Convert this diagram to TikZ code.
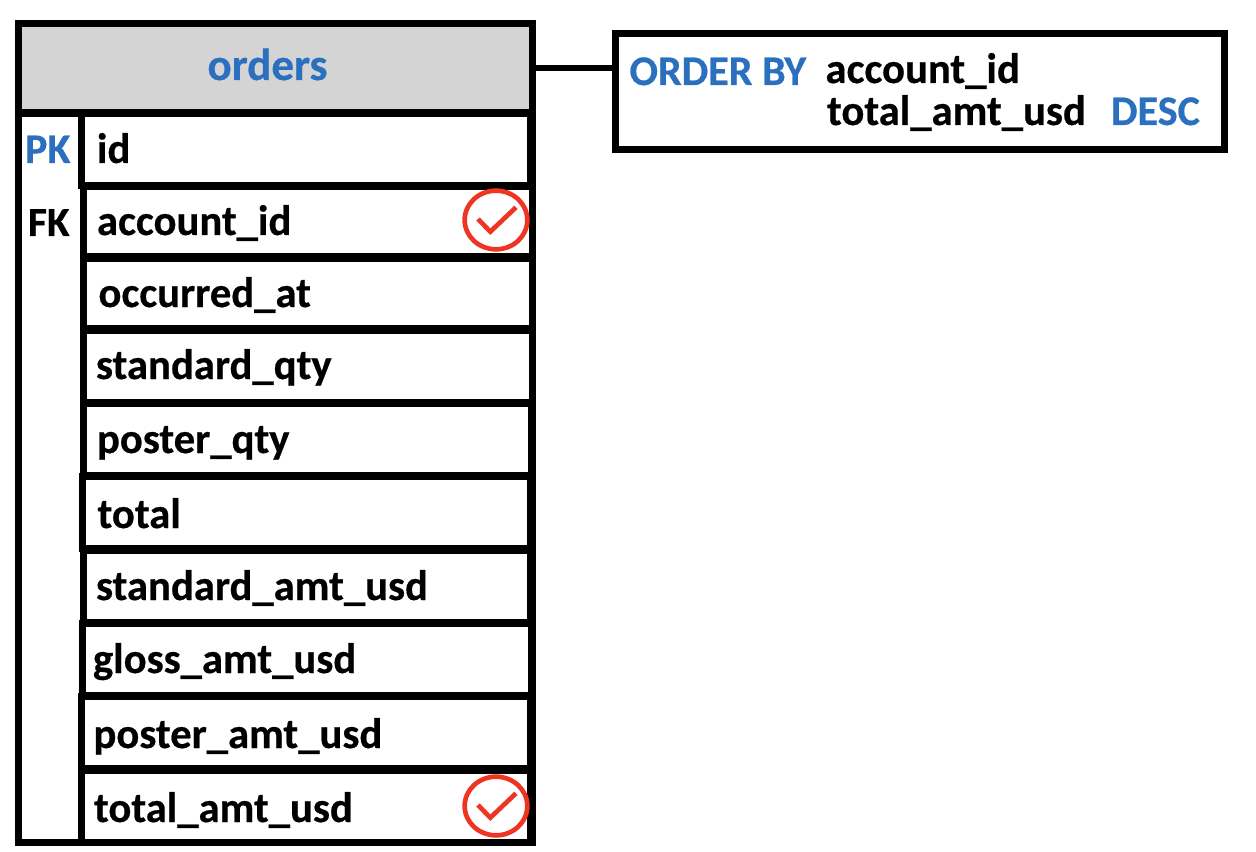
\documentclass[tikz,border=0pt]{standalone}
\usepackage{fontspec}
\setmainfont[BoldFeatures={FakeBold=0.5}]{Carlito}
\definecolor{hdrgrey}{HTML}{D5D4D5}
\definecolor{sqlblue}{HTML}{2A70BE}
\definecolor{chkred}{HTML}{EE3524}
\newcommand{\rowcell}[5]{%
  \node[rowbox, minimum width={(#3-#2+7)*0.75pt}, minimum height={(#5-#4+7)*0.75pt}]
    (#1) at ({(#2+#3)/2},{(#4+#5)/2}) {};}
\newcommand{\chkmark}[3]{%
  \node[chkring] (#1) at (#2,#3) {};
  \draw[chkline] (#2-18,#3-1) -- (#2-5.7,#3+11.7) -- (#2+20,#3-12.7);}
\tikzset{
  x=0.75pt, y=-0.75pt,
  framebox/.style={draw=black, line width=5.25pt, fill=white, inner sep=0pt, outer sep=0pt, rectangle},
  rowbox/.style={draw=black, line width=5.25pt, fill=white, inner sep=0pt, outer sep=0pt, rectangle},
  hdrbox/.style={fill=hdrgrey, inner sep=0pt, outer sep=0pt, rectangle},
  bandbox/.style={fill=black, inner sep=0pt, outer sep=0pt, rectangle},
  lbl/.style={anchor=base west, inner sep=0pt, outer sep=0pt, font=\fontsize{32}{34}\selectfont\bfseries, text=black},
  bluelbl/.style={lbl, text=sqlblue, font=\fontsize{31.6}{34}\selectfont\bfseries},
  chkring/.style={draw=chkred, line width=3.5pt, ellipse, inner sep=0pt, outer sep=0pt, minimum width=47pt, minimum height=44pt},
  chkline/.style={draw=chkred, line width=3.5pt},
  conn/.style={draw=black, line width=5.1pt},
}
\usetikzlibrary{shapes.geometric}
\begin{document}
\begin{tikzpicture}
\useasboundingbox (0,0) rectangle (1256,852);
% outer table frame
\node[framebox, minimum width={514*0.75pt}, minimum height={819*0.75pt}] (frame) at (275.5,433) {};
\node[hdrbox, minimum width={507*0.75pt}, minimum height={82*0.75pt}] (orders) at (275.5,68) {};
\node[bandbox, minimum width={507*0.75pt}, minimum height={8*0.75pt}] (band) at (275.5,113) {};
\node[bluelbl, anchor=base, font=\fontsize{33.8}{36}\selectfont\bfseries] (ordersT) at (267.5,80) {orders};
% rows
\rowcell{r1}{85}{527}{117}{182}
\rowcell{r2}{87}{529}{190}{253}
\rowcell{r3}{87}{529}{262}{325}
\rowcell{r4}{87}{529}{334}{399}
\rowcell{r5}{87}{528}{407}{472}
\rowcell{r6}{86}{527}{480}{545}
\rowcell{r7}{87}{527}{554}{619}
\rowcell{r8}{86}{528}{627}{692}
\rowcell{r9}{85}{527}{700}{765}
\rowcell{r10}{85}{527}{774}{839}
% row labels
\node[bluelbl] (pk) at (25,163) {PK};
\node[lbl, font=\fontsize{31}{34}\selectfont\bfseries] (fk) at (28,236) {FK};
\node[lbl] (t1) at (97,163) {id};
\node[lbl] (t2) at (97,235) {account\_id};
\node[lbl] (t3) at (98.5,307) {occurred\_at};
\node[lbl] (t4) at (96,379) {standard\_qty};
\node[lbl] (t5) at (97,453) {poster\_qty};
\node[lbl] (t6) at (97.5,528) {total};
\node[lbl] (t7) at (96,600) {standard\_amt\_usd};
\node[lbl] (t8) at (93,673) {gloss\_amt\_usd};
\node[lbl] (t9) at (93.5,748) {poster\_amt\_usd};
\node[lbl] (t10) at (94,822) {total\_amt\_usd};
% check marks
\chkmark{c1}{496}{220}
\chkmark{c2}{496}{806}
% ORDER BY box
\node[framebox, minimum width={609*0.75pt}, minimum height={116*0.75pt}] (orderby) at (920,91.5) {};
\node[bluelbl] (ob) at (629.5,85) {ORDER BY};
\node[lbl] (oa) at (825.5,83) {account\_id};
\node[lbl] (ot) at (827,125) {total\_amt\_usd};
\node[bluelbl] (od) at (1111,125) {DESC};
% connector
\draw[conn] (frame.east |- orders.east) -- (orders.east -| orderby.west);
\end{tikzpicture}
\end{document}
